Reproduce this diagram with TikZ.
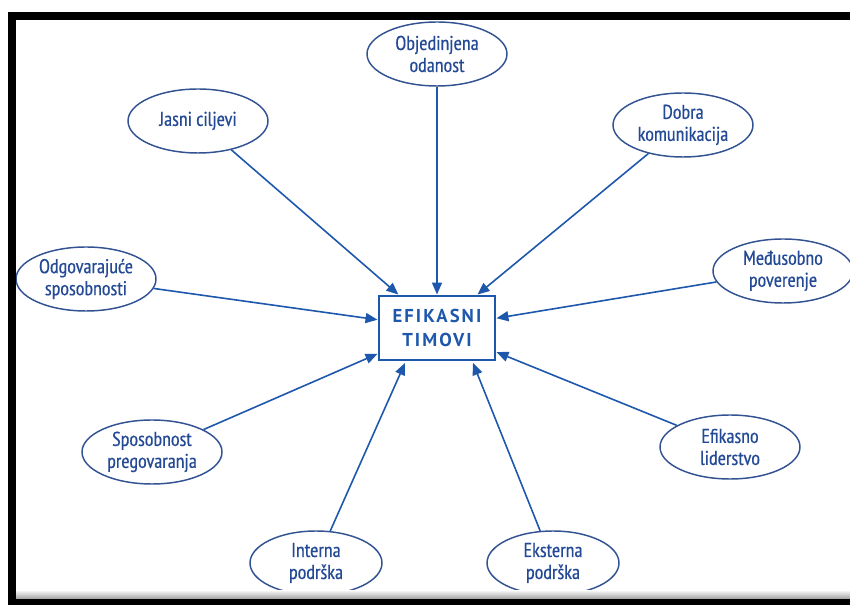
\documentclass[tikz,border=0pt]{standalone}
\usepackage{fontspec}
\setmainfont{PT Sans Narrow}[FakeBold=0.4]
\newfontfamily\hubfont[LetterSpace=11]{PT Sans}
\usetikzlibrary{shapes.geometric,arrows.meta}
\definecolor{inkblue}{RGB}{30,88,172}
\definecolor{ovalblue}{RGB}{50,82,146}
\definecolor{labelblue}{RGB}{36,74,150}
\begin{document}
\begin{tikzpicture}[x=0.75pt,y=-0.75pt,
  oval/.style={ellipse,draw=ovalblue,line width=1.1pt,text=labelblue,inner sep=0pt,
    minimum width=105pt,minimum height=48pt,align=center,
    font=\fontsize{15}{16.5}\selectfont},
  hub/.style={rectangle,draw=inkblue,line width=2.2pt,minimum width=87pt,
    minimum height=48pt,inner sep=0pt,align=center,text=inkblue,
    font=\hubfont\bfseries\fontsize{14}{18}\selectfont},
  conn/.style={draw=inkblue,line width=1.2pt,-{Triangle[length=9pt,width=7.5pt]}}]
\useasboundingbox (0,0) rectangle (850,605);

% central box
\node[hub] (hub) at (437,328) {EFIKASNI\\TIMOVI};
% landing points of the two lower connectors
\coordinate (hubleft)  at ([xshift=-24pt,yshift=-1.1pt]hub.south);
\coordinate (hubright) at ([xshift=27pt,yshift=-1.1pt]hub.south);

% surrounding factors
\node[oval] (odanost)   at (437,54)  {Objedinjena\\odanost};
\node[oval] (ciljevi)   at (198,121) {Jasni ciljevi};
\node[oval] (komunik)   at (683,125) {Dobra\\komunikacija};
\node[oval] (sposob)    at (86,279)  {Odgovarajuće\\sposobnosti};
\node[oval] (poverenje) at (783,271) {Međusobno\\poverenje};
\node[oval] (lider)     at (730,447) {Efikasno\\liderstvo};
\node[oval] (pregovor)  at (152,452) {Sposobnost\\pregovaranja};
\node[oval,minimum width=99pt] (interna) at (316,563) {Interna\\podrška};
\node[oval,minimum width=99pt] (eksterna) at (553,563) {Eksterna\\podrška};

% connectors
\foreach \n in {odanost,ciljevi,komunik,sposob,poverenje,lider,pregovor}
  \draw[conn] (\n) -- (hub);
\draw[conn] (interna) -- (hubleft);
\draw[conn] (eksterna) -- (hubright);

% frame
\fill[black] (8,12) rectangle (850,20);
\fill[black] (8,12) rectangle (16,605);
\shade[top color=gray!10,bottom color=gray!75] (16,591) rectangle (850,599);
\fill[black] (8,599) rectangle (850,605);
\end{tikzpicture}
\end{document}
